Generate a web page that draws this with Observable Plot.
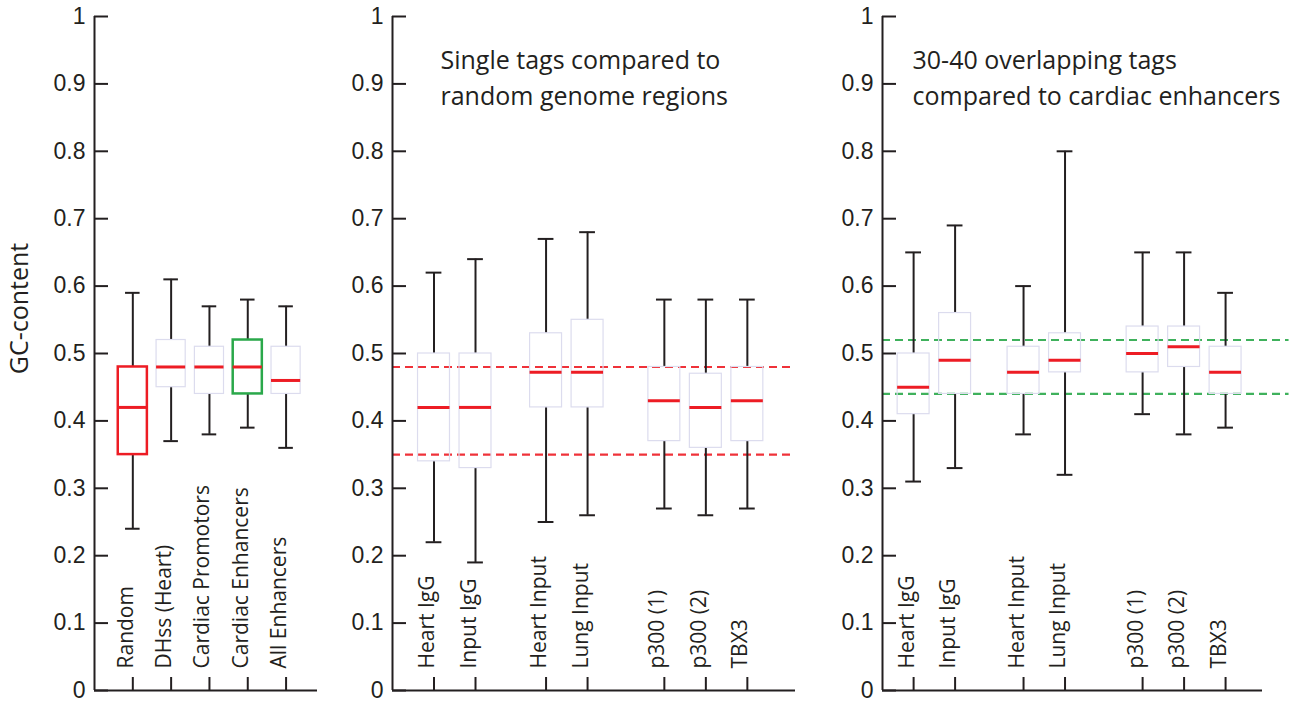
<!DOCTYPE html>
<html><head><meta charset="utf-8">
<script src="https://cdn.jsdelivr.net/npm/d3@7"></script>
<script src="https://cdn.jsdelivr.net/npm/@observablehq/plot@0.6"></script>
<style>
html,body{margin:0;padding:0;background:#fff;}
#wrap{position:relative;width:1290px;height:706px;overflow:hidden;background:#fff;}
#wrap svg{position:absolute;top:0;background:transparent;overflow:visible;}
</style></head><body><div id="wrap"></div>
<script>
// ---------- data ----------
const yTicks = [0, 0.1, 0.2, 0.3, 0.4, 0.5, 0.6, 0.7, 0.8, 0.9, 1];
const yTickLabels = ["0", "0.1", "0.2", "0.3", "0.4", "0.5", "0.6", "0.7", "0.8", "0.9", "1"];
const yLabel = "GC-content";

const p1Labels = ["Random", "DHss (Heart)", "Cardiac Promotors", "Cardiac Enhancers", "All Enhancers"];
const p1Low    = [0.24, 0.37, 0.38, 0.39, 0.36];
const p1Q1     = [0.35, 0.45, 0.44, 0.44, 0.44];
const p1Median = [0.42, 0.48, 0.48, 0.48, 0.46];
const p1Q3     = [0.48, 0.52, 0.51, 0.52, 0.51];
const p1High   = [0.59, 0.61, 0.57, 0.58, 0.57];

const p2Labels = ["Heart IgG", "Input IgG", "Heart Input", "Lung Input", "p300 (1)", "p300 (2)", "TBX3"];
const p2Low    = [0.22, 0.19, 0.25, 0.26, 0.27, 0.26, 0.27];
const p2Q1     = [0.34, 0.33, 0.42, 0.42, 0.37, 0.36, 0.37];
const p2Median = [0.42, 0.42, 0.472, 0.472, 0.43, 0.42, 0.43];
const p2Q3     = [0.50, 0.50, 0.53, 0.55, 0.48, 0.47, 0.48];
const p2High   = [0.62, 0.64, 0.67, 0.68, 0.58, 0.58, 0.58];
const p2RefLines = [0.48, 0.35];
const p2Note = ["Single tags compared to", "random genome regions"];

const p3Labels = ["Heart IgG", "Input IgG", "Heart Input", "Lung Input", "p300 (1)", "p300 (2)", "TBX3"];
const p3Low    = [0.31, 0.33, 0.38, 0.32, 0.41, 0.38, 0.39];
const p3Q1     = [0.41, 0.44, 0.44, 0.472, 0.472, 0.48, 0.44];
const p3Median = [0.45, 0.49, 0.472, 0.49, 0.50, 0.51, 0.472];
const p3Q3     = [0.50, 0.56, 0.51, 0.53, 0.54, 0.54, 0.51];
const p3High   = [0.65, 0.69, 0.60, 0.80, 0.65, 0.65, 0.59];
const p3RefLines = [0.52, 0.44];
const p3Note = ["30-40 overlapping tags", "compared to cardiac enhancers"];

// ---------- styles & layout ----------
const INK = "#231f20";
const RED = "#ed1c24";
const GREEN = "#2aa84a";
const LAV = "#dcdcee";
const TICK_FONT = "'Liberation Sans', Arial, sans-serif";
const TEXT_FONT = "'Open Sans', sans-serif";
const H = 706, MT = 16, MB = 16;

// group layout: items placed consecutively within a group, groups start at given offsets
function groupPositions(sizes, starts) {
  const out = [];
  sizes.forEach((n, g) => { for (let k = 0; k < n; k++) out.push(starts[g] + k); });
  return out;
}

function panel(cfg) {
  const {left, width, axisX, axisEnd, domainMax, positions, labels, low, q1, med, q3, high,
         boxHalf, capHalf, boxStroke, boxStrokeWidth, refLines, refColor, refTo, note, noteDx, showYLabel} = cfg;
  const marginLeft = axisX - left, marginRight = left + width - axisEnd;
  const plotW = width - marginLeft - marginRight, plotH = H - MT - MB;
  const rows = labels.map((label, i) => ({label, x: positions[i], low: low[i], q1: q1[i], med: med[i], q3: q3[i], high: high[i]}));
  const marks = [];
  if (refLines) {
    marks.push(Plot.ruleY(refLines, {x1: 0, x2: refTo ?? domainMax, stroke: refColor, strokeWidth: 2.2, strokeDasharray: "8,5", strokeOpacity: 0.9}));
  }
  marks.push(
    Plot.ruleX(rows, {x: "x", y1: "low", y2: "q1", stroke: INK, strokeWidth: 2}),
    Plot.ruleX(rows, {x: "x", y1: "q3", y2: "high", stroke: INK, strokeWidth: 2}),
    Plot.ruleY(rows, {y: "low", x1: d => d.x - capHalf, x2: d => d.x + capHalf, stroke: INK, strokeWidth: 2}),
    Plot.ruleY(rows, {y: "high", x1: d => d.x - capHalf, x2: d => d.x + capHalf, stroke: INK, strokeWidth: 2}),
    Plot.rect(rows, {x1: d => d.x - boxHalf, x2: d => d.x + boxHalf, y1: "q1", y2: "q3", fill: "none",
      stroke: d => boxStroke(d.label), strokeWidth: d => boxStrokeWidth(d.label)}),
    Plot.ruleY(rows, {y: "med", x1: d => d.x - boxHalf, x2: d => d.x + boxHalf, stroke: RED, strokeWidth: 3}),
    // axes
    Plot.ruleX([0], {stroke: INK, strokeWidth: 2}),
    Plot.ruleY([0], {stroke: INK, strokeWidth: 2}),
    Plot.ruleY(yTicks, {y: d => d, insetRight: plotW - 14, stroke: INK, strokeWidth: 2}),
    Plot.ruleX(rows, {x: "x", insetTop: plotH - 13, stroke: INK, strokeWidth: 2}),
    Plot.text(yTicks, {y: d => d, frameAnchor: "left", textAnchor: "end", dx: -9, text: (d, i) => yTickLabels[i],
      fontSize: 23, fontFamily: TICK_FONT, fill: INK}),
    Plot.text(rows, {x: "x", frameAnchor: "bottom", text: "label", rotate: -90, textAnchor: "start", dy: -22,
      fontSize: 21, fontFamily: TEXT_FONT, fill: INK})
  );
  if (note) {
    marks.push(Plot.text([note.join("\n")], {frameAnchor: "top-left", textAnchor: "start", lineAnchor: "top",
      dx: noteDx, dy: 27, lineHeight: 1.44, fontSize: 25, fontFamily: TEXT_FONT, fill: INK}));
  }
  if (showYLabel) {
    marks.push(Plot.text([yLabel], {frameAnchor: "left", rotate: -90, textAnchor: "middle", dx: -75, dy: -45,
      fontSize: 25, fontFamily: TEXT_FONT, fill: INK}));
  }
  const svg = Plot.plot({
    width, height: H, marginLeft, marginRight, marginTop: MT, marginBottom: MB,
    x: {domain: [0, domainMax], axis: null},
    y: {domain: [0, 1], axis: null},
    style: {background: "transparent", overflow: "visible"},
    marks
  });
  svg.style.left = left + "px";
  document.getElementById("wrap").appendChild(svg);
}

const plain = () => LAV;
const oneW = () => 1.2;

panel({
  left: 0, width: 330, axisX: 94, axisEnd: 317, domainMax: 5.82,
  positions: groupPositions([5], [1]),
  labels: p1Labels, low: p1Low, q1: p1Q1, med: p1Median, q3: p1Q3, high: p1High,
  boxHalf: 0.38, capHalf: 0.19,
  boxStroke: l => l === "Random" ? RED : l === "Cardiac Enhancers" ? GREEN : LAV,
  boxStrokeWidth: l => (l === "Random" || l === "Cardiac Enhancers") ? 2.5 : 1.2,
  showYLabel: true
});

panel({
  left: 330, width: 490, axisX: 392, axisEnd: 795, domainMax: 9.71,
  positions: groupPositions([2, 2, 3], [1, 3.7, 6.55]),
  labels: p2Labels, low: p2Low, q1: p2Q1, med: p2Median, q3: p2Q3, high: p2High,
  boxHalf: 0.385, capHalf: 0.19, boxStroke: plain, boxStrokeWidth: oneW,
  refLines: p2RefLines, refColor: RED, note: p2Note, noteDx: 48
});

panel({
  left: 820, width: 470, axisX: 882, axisEnd: 1262, domainMax: 9.16,
  positions: groupPositions([2, 2, 3], [0.75, 3.4, 6.27]),
  labels: p3Labels, low: p3Low, q1: p3Q1, med: p3Median, q3: p3Q3, high: p3High,
  boxHalf: 0.385, capHalf: 0.19, boxStroke: plain, boxStrokeWidth: oneW,
  refLines: p3RefLines, refColor: GREEN, refTo: 9.8, note: p3Note, noteDx: 30
});
</script></body></html>
